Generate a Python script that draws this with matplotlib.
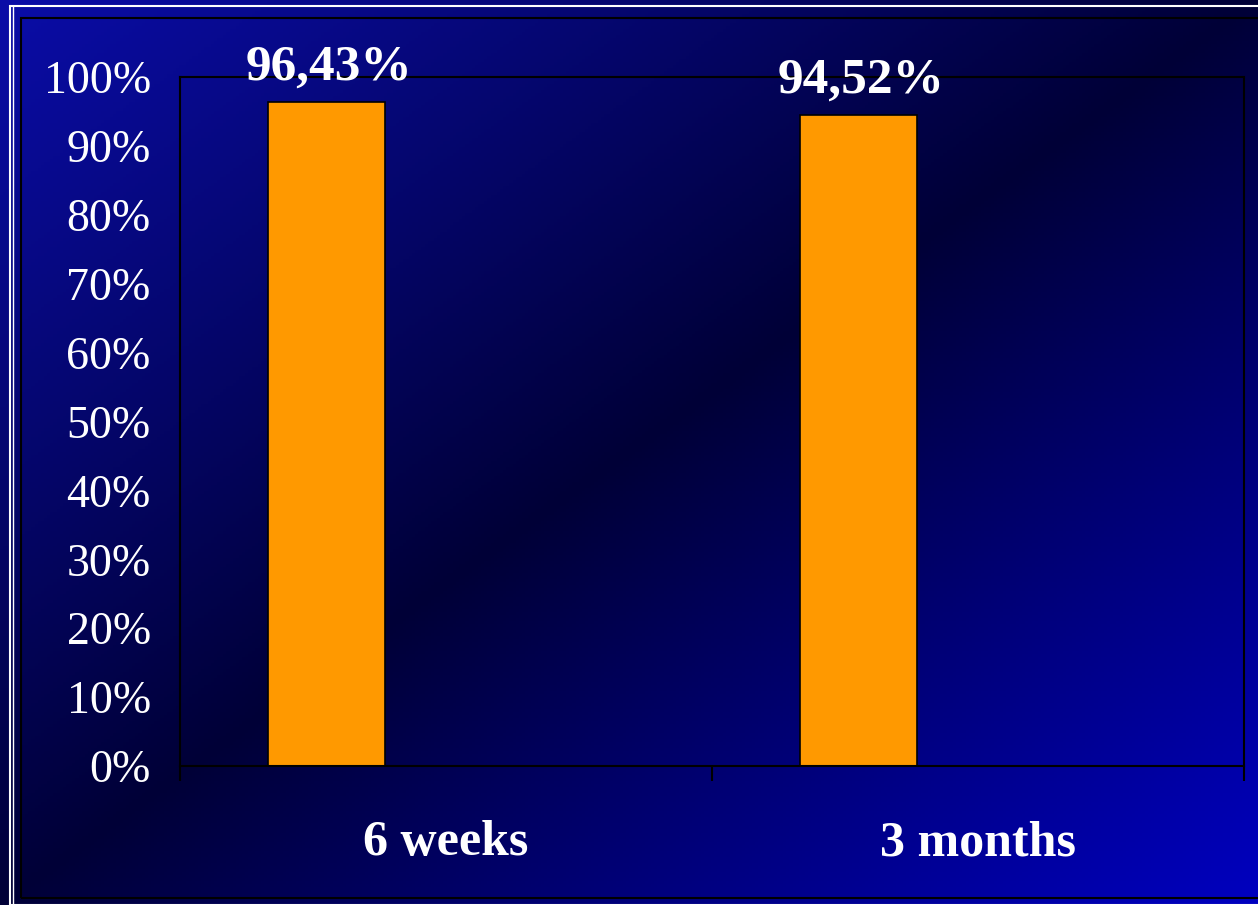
import numpy as np
import matplotlib.pyplot as plt
from matplotlib.patches import Rectangle

# data
categories = ['6 weeks', '3 months']
values = [96.43, 94.52]
value_labels = ['96,43%', '94,52%']
yticks = [0, 10, 20, 30, 40, 50, 60, 70, 80, 90, 100]

W, H = 1258, 905
fig = plt.figure(figsize=(W / 100, H / 100), dpi=100)

# background gradient, bright blue corners, dark navy in the middle
bg = fig.add_axes([0, 0, 1, 1])
xx, yy = np.meshgrid(np.linspace(0, 1, 400), np.linspace(0, 1, 300))
t = (xx + yy) / 2
b = np.abs(t - 0.5) * 2
img = np.zeros((300, 400, 3))
img[..., 0] = np.where(t < 0.5, b * 0.04, 0)
img[..., 1] = np.where(t < 0.5, b * 0.05, 0)
img[..., 2] = (55 + b * (np.where(t < 0.5, 168, 192) - 55)) / 255
bg.imshow(img, extent=[0, 1, 0, 1], aspect='auto', origin='upper')
bg.set_xlim(0, 1)
bg.set_ylim(0, 1)
bg.axis('off')

# frame lines
def fx(px):
    return px / W
def fy(py):
    return 1 - py / H

bg.add_patch(Rectangle((fx(10), fy(905)), fx(1258 - 10) + 0.01, fy(6) - fy(905),
                       fill=False, ec='white', lw=1.5))
bg.plot([fx(13), fx(13)], [fy(6), fy(905)], color='white', lw=1.0)
bg.add_patch(Rectangle((fx(21), fy(898)), fx(1258 - 21) + 0.01, fy(18) - fy(898),
                       fill=False, ec='black', lw=1.5))

ax = fig.add_axes([180 / W, 1 - 766 / H, (1244 - 180) / W, (766 - 77) / H])
ax.set_facecolor('none')

x = np.arange(len(categories))
ax.bar(x - 0.225, values, width=0.22, color='#FF9900', edgecolor='black', lw=1.2)

for xi, v, lab in zip(x, values, value_labels):
    ax.text(xi - 0.22, v + 1.6, lab, ha='center', va='bottom', color='white',
            fontsize=37, fontweight='bold', family='Liberation Serif')

ax.set_xlim(-0.5, 1.5)
ax.set_ylim(0, 100)
ax.set_yticks(yticks)
ax.set_yticklabels([f'{t}%' for t in yticks], family='Liberation Serif',
                   fontsize=33, color='white')
ax.tick_params(axis='y', length=0, pad=21)
ax.set_xticks(x)
ax.set_xticklabels(categories, family='Liberation Serif', fontsize=36,
                   fontweight='bold', color='white')
ax.tick_params(axis='x', which='major', length=0, pad=39)
ax.set_xticks([-0.5, 0.5, 1.5], minor=True)
ax.tick_params(axis='x', which='minor', length=11, width=1.5, color='black',
               direction='out')
for sp in ax.spines.values():
    sp.set_color('black')
    sp.set_linewidth(1.5)

fig.savefig('out.png', dpi=100)
